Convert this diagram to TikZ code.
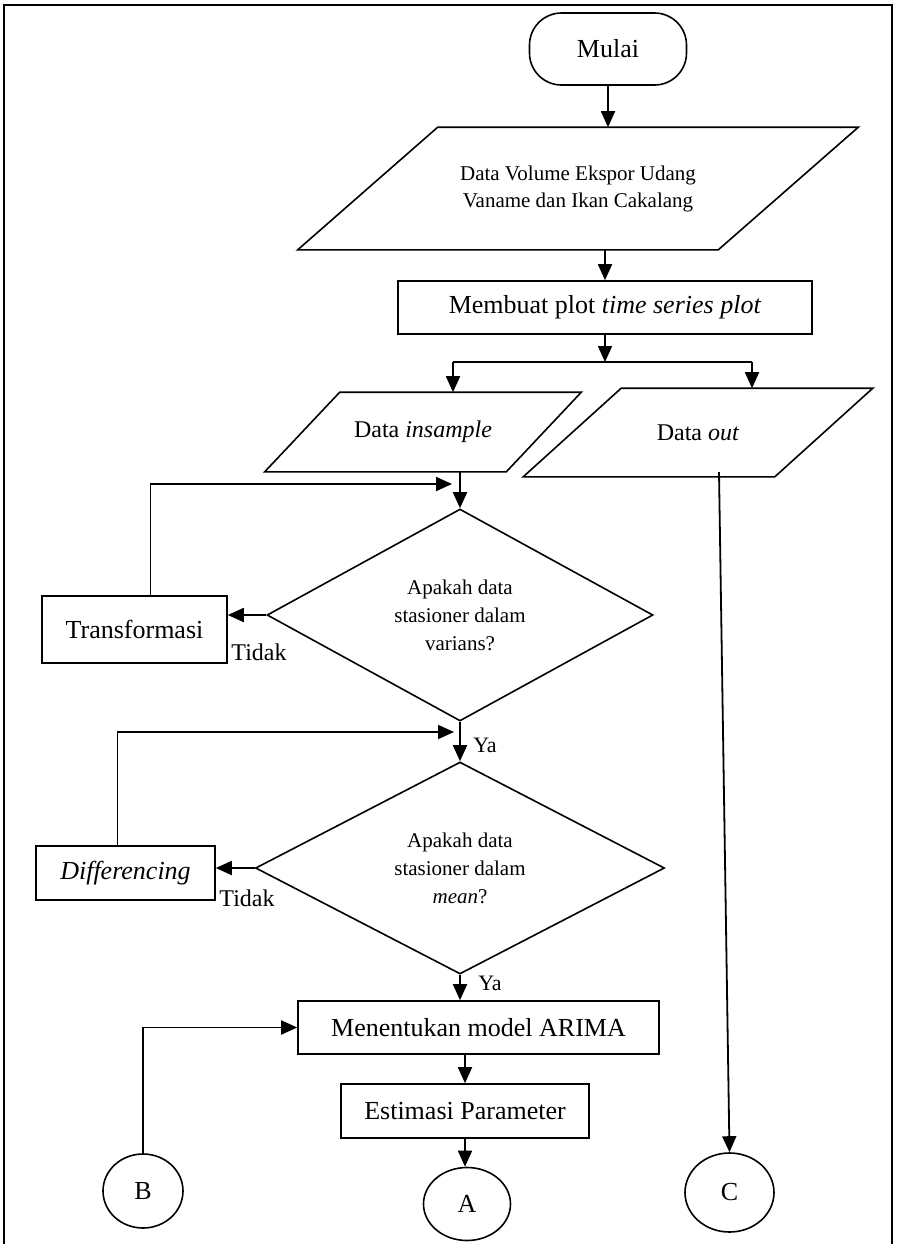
\documentclass[tikz,border=0pt]{standalone}
\usepackage{fontspec}
\setmainfont{Liberation Serif}
\usetikzlibrary{arrows.meta, positioning, shapes.geometric, calc}

\begin{document}
\begin{tikzpicture}[x=0.5pt, y=-0.5pt, line width=0.8pt,
    box/.style={draw, rectangle, inner sep=0pt, font=\fontsize{13}{16}\selectfont},
    iobox/.style={rectangle, inner sep=0pt, align=center, font=\fontsize{12}{14}\selectfont},
    ask/.style={draw, diamond, inner sep=0pt, align=center, font=\fontsize{10.5}{14}\selectfont},
    conn/.style={draw, ellipse, inner sep=0pt, font=\fontsize{13}{16}\selectfont},
    arr/.style={-{Triangle[length=8pt, width=7pt]}, line width=0.9pt},
    lbl/.style={inner sep=0pt, font=\fontsize{12}{14}\selectfont}]
  \useasboundingbox (0,0) rectangle (896,1244);
  % page frame, open at the bottom
  \draw (4,1244) -- (4,5) -- (892,5) -- (892,1244);

  \node[box, rounded corners=16pt, minimum width=78.5pt, minimum height=36pt] (mulai) at (608,49) {Mulai};
  \node[iobox, minimum width=209.5pt, minimum height=60.5pt, font=\fontsize{10.5}{13.5}\selectfont] (data) at (578,188.5) {Data Volume Ekspor Udang\\Vaname dan Ikan Cakalang};
  \node[box, minimum width=207pt, minimum height=26.5pt] (plot) at (605,307.5) {Membuat plot \textit{time series plot}};
  \node[iobox, minimum width=120pt, minimum height=39pt] (ins) at (423,432) {Data \textit{insample}};
  \node[iobox, minimum width=125pt, minimum height=43.5pt] (out) at (698,432.5) {Data \textit{out}};
  % parallelograms round the three data nodes
  \foreach \n/\s in {data/70, ins/37.5, out/49}
    \draw ([shift={(\s,0)}]\n.north west) -- ([shift={(\s,0)}]\n.north east)
      -- ([shift={(-\s,0)}]\n.south east) -- ([shift={(-\s,0)}]\n.south west) -- cycle;

  \node[ask, minimum width=193pt, minimum height=106pt] (d1) at (460,615) {Apakah data\\stasioner dalam\\varians?};
  \node[box, minimum width=92.5pt, minimum height=33.5pt] (trans) at (134.5,629.5) {Transformasi};
  \node[ask, minimum width=204.5pt, minimum height=106pt] (d2) at (460,868) {Apakah data\\stasioner dalam\\\textit{mean}?};
  \node[box, minimum width=89.5pt, minimum height=27pt] (diff) at (125.5,873) {\textit{Differencing}};
  \node[box, minimum width=180.5pt, minimum height=26.5pt] (arima) at (478.5,1027.5) {Menentukan model ARIMA};
  \node[box, minimum width=124pt, minimum height=27pt] (est) at (465,1111) {Estimasi Parameter};
  \node[conn, minimum width=40pt, minimum height=37pt] (b) at (143,1191) {B};
  \node[conn, minimum width=43.5pt, minimum height=36.5pt] (a) at (467,1204) {A};
  \node[conn, minimum width=44.5pt, minimum height=39.5pt] (c) at (729.5,1192.5) {C};

  \node[lbl] (tidak1) at (259,652) {Tidak};
  \node[lbl] (tidak2) at (247,898) {Tidak};
  \node[lbl, font=\fontsize{11}{13}\selectfont] (ya1) at (485,745) {Ya};
  \node[lbl, font=\fontsize{11}{13}\selectfont] (ya2) at (490,983) {Ya};

  \coordinate (sl) at (453,362);
  \coordinate (sr) at (752,362);
  \coordinate (outd) at (719,472);
  \coordinate (j1) at (460,484);
  \coordinate (j2) at (460,732);

  \draw[arr] (mulai.south) -- (mulai.south |- data.north);
  \draw[arr] (plot.north |- data.south) -- (plot.north);
  \draw[arr] (plot.south) -- (plot.south |- sl);
  \draw (sl) -- (sr);
  \draw[arr] (sl) -- (sl |- ins.north);
  \draw[arr] (sr) -- (sr |- out.north);
  \draw[arr] (outd) -- (c.north);
  \draw[arr] (d1.north |- ins.south) -- (d1.north);
  \draw[arr] (d1.west) -- (d1.west -| trans.east);
  \draw[arr, shorten >=4pt] ([xshift=8pt]trans.north) |- (j1);
  \draw[arr] (d1.south) -- (d2.north);
  \draw[arr] (d2.west) -- (d2.west -| diff.east);
  \draw[arr, shorten >=3pt] ([xshift=-4pt]diff.north) |- (j2);
  \draw[arr] (d2.south) -- (d2.south |- arima.north);
  \draw[arr] (b.north) |- (arima.west);
  \draw[arr] (est.north |- arima.south) -- (est.north);
  \draw[arr] (est.south) -- (est.south |- a.north);
\end{tikzpicture}
\end{document}
